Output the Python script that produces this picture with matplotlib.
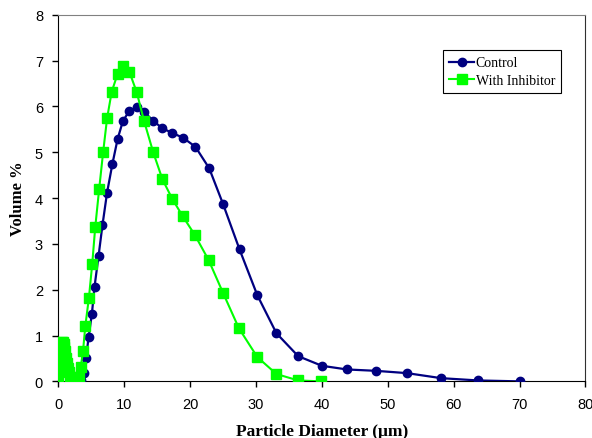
import matplotlib
matplotlib.use("Agg")
import matplotlib.pyplot as plt

# Control (navy circles)
ctrl_x = [3.0, 3.4, 3.85, 4.2, 4.6, 5.1, 5.5, 6.1, 6.7, 7.4, 8.2, 9.0, 9.8, 10.8, 11.9,
          13.0, 14.4, 15.7, 17.3, 18.9, 20.8, 22.9, 25.0, 27.5, 30.2, 33.1, 36.4,
          40.0, 43.8, 48.2, 52.9, 58.1, 63.7, 70.0]
ctrl_y = [0.0, 0.02, 0.19, 0.50, 0.97, 1.48, 2.07, 2.73, 3.41, 4.12, 4.74, 5.29, 5.68,
          5.91, 5.98, 5.88, 5.69, 5.53, 5.42, 5.32, 5.12, 4.65, 3.87, 2.88, 1.88,
          1.05, 0.55, 0.34, 0.26, 0.23, 0.18, 0.07, 0.02, 0.0]

# With Inhibitor (green squares)
inh_x = [0.02, 0.1, 0.2, 0.3, 0.4, 0.5, 0.6, 0.7, 0.8, 0.9, 1.0, 1.15, 1.3, 1.45, 1.6,
         1.8, 2.0, 2.2, 2.4, 2.6, 2.8, 3.1, 3.4,
         3.75, 4.1, 4.65, 5.15, 5.6, 6.2, 6.8, 7.4, 8.1, 9.0, 9.8, 10.8, 11.9, 13.0,
         14.4, 15.8, 17.3, 18.9, 20.7, 22.8, 25.0, 27.4, 30.2, 33.1, 36.4, 39.9]
inh_y = [0.1, 0.3, 0.5, 0.65, 0.75, 0.82, 0.86, 0.86, 0.82, 0.75, 0.66, 0.52, 0.4,
         0.3, 0.2, 0.1, 0.05, 0.02, 0.0, 0.0, 0.02, 0.1,
         0.31, 0.66, 1.21, 1.83, 2.57, 3.36, 4.20, 5.00, 5.74, 6.32, 6.71, 6.89,
         6.75, 6.31, 5.69, 5.00, 4.41, 3.98, 3.60, 3.20, 2.65, 1.93, 1.16, 0.53,
         0.16, 0.02, 0.0]

fig = plt.figure(figsize=(5.92, 4.39), dpi=100)
ax = fig.add_axes([0.0985, 0.129, 0.8905, 0.835])

ax.plot(ctrl_x, ctrl_y, color='#000080', lw=1.6, marker='o', ms=6,
        label='Control', zorder=3)
ax.plot(inh_x, inh_y, color='#00FF00', lw=1.5, marker='s', ms=6.5,
        label='With Inhibitor', zorder=4)

ax.set_xlim(0, 80)
ax.set_ylim(0, 8)
ax.set_xticks(range(0, 81, 10))
ax.set_yticks(range(0, 9))
ax.tick_params(direction='out', length=4, width=1, labelsize=10.5, colors='black')
ax.tick_params(axis='x', pad=7)
ax.tick_params(axis='y', pad=7)
for lab in ax.get_xticklabels() + ax.get_yticklabels():
    lab.set_family('Liberation Sans')

ax.spines['top'].set_color('#808080')
ax.spines['right'].set_color('#303030')
ax.spines['left'].set_color('black')
ax.spines['bottom'].set_color('black')

ax.set_xlabel('Particle Diameter (\u03bcm)', family='Liberation Serif',
              fontweight='bold', fontsize=12.5, labelpad=9)
ax.set_ylabel('Volume %', family='Liberation Serif', fontweight='bold',
              fontsize=12, labelpad=6)

leg = ax.legend(loc='upper right', bbox_to_anchor=(0.962, 0.915),
                prop={'family': 'Liberation Serif', 'size': 10},
                fancybox=False, edgecolor='black', framealpha=1,
                handlelength=1.8, borderpad=0.45, labelspacing=0.35,
                handletextpad=0.1, borderaxespad=0.3)
leg.get_frame().set_linewidth(0.8)

fig.savefig('out.png', dpi=100)
